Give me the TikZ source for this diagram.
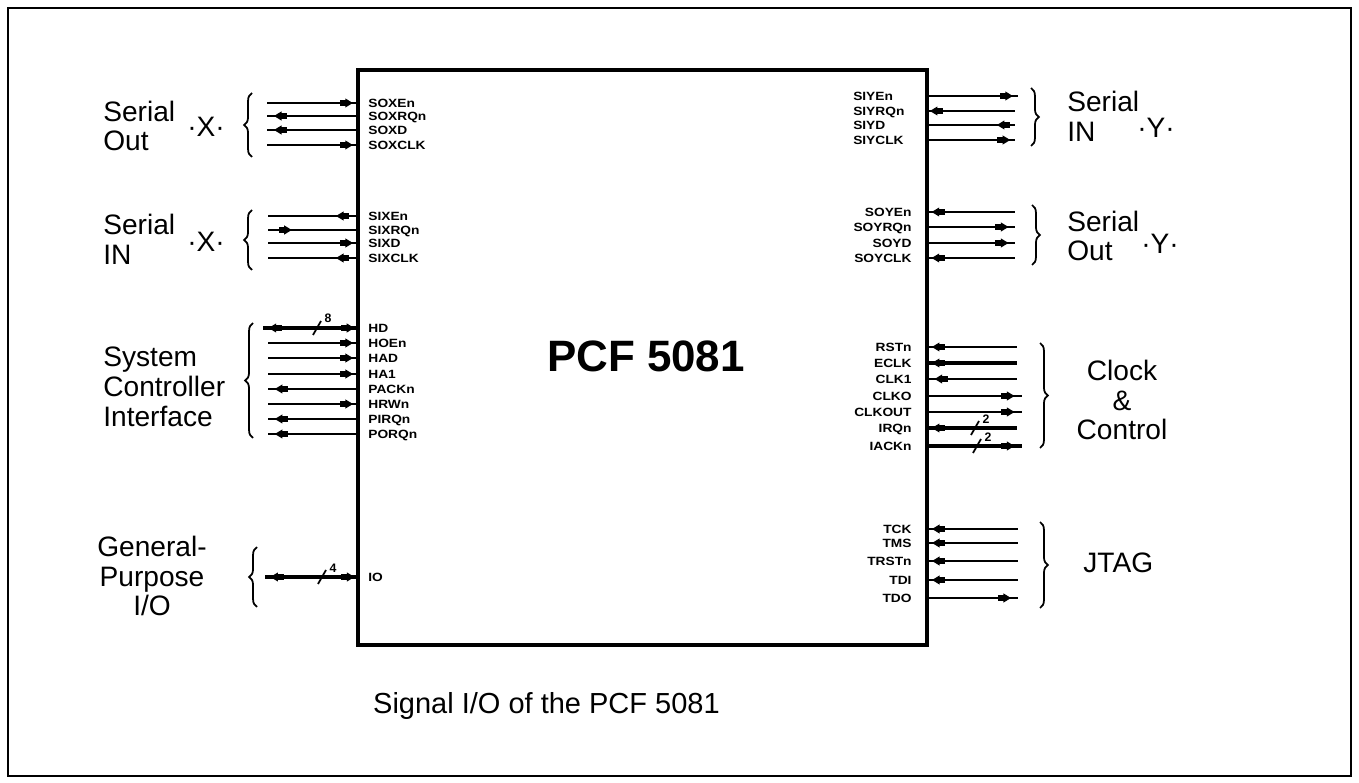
\documentclass[tikz,border=0pt]{standalone}
\usepackage{fontspec}
\setmainfont{Liberation Sans}
\usepackage{graphicx}
\usetikzlibrary{decorations.markings,decorations.pathreplacing}

\tikzset{
  sig/.style={line width=1.1pt},
  bus/.style={line width=2pt},
  fwd/.style={postaction={decorate,decoration={markings,mark=at position #1 with {\fill (3.3pt,0) -- (-1pt,2.6pt) -- (-1pt,-2.6pt) -- cycle; \fill (-4.2pt,-1.9pt) rectangle (-0.8pt,1.9pt);}}}},
  bwd/.style={postaction={decorate,decoration={markings,mark=at position #1 with {\fill (-3.3pt,0) -- (1pt,2.6pt) -- (1pt,-2.6pt) -- cycle; \fill (4.2pt,-1.9pt) rectangle (0.8pt,1.9pt);}}}},
  pin/.style={inner sep=0pt, font=\fontsize{6.8}{7}\selectfont\bfseries},
  side/.style={inner sep=0pt, font=\fontsize{16}{17}\selectfont, align=left},
  brc/.style={decorate, decoration={brace, amplitude=4.5pt}, line width=1pt},
  slash/.style={line width=1pt},
  buslbl/.style={inner sep=0pt, font=\fontsize{7}{8}\selectfont\bfseries},
}

% left signal: name, y, far x, style, label
\newcommand{\Lsig}[5]{%
  \coordinate (#1) at (#3,#2);
  \draw[#4] (chip.west |- #1) -- (#1);
  \node[pin, anchor=mid west, xshift=0.2cm] (#1-t) at (chip.west |- #1) {\scalebox{1.15}[1]{#5}};
}
% right signal: name, y, far x, style, label, label options
\newcommand{\Rsig}[6]{%
  \coordinate (#1) at (#3,#2);
  \draw[#4] (chip.east |- #1) -- (#1);
  \node[pin, #6] (#1-t) at (chip.east |- #1) {\scalebox{1.15}[1]{#5}};
}

\begin{document}
\begin{tikzpicture}[x=0.02cm,y=-0.02cm]
\useasboundingbox (0,0) rectangle (1359,783);
\draw[line width=1.2pt] (8,8) rectangle (1351,776);

\node[draw, line width=2.6pt, outer sep=0pt, inner sep=0pt,
      minimum width=11.38cm, minimum height=11.5cm, anchor=north west] (chip) at (358,70) {};
\node[font=\fontsize{25}{28}\selectfont\bfseries] (title) at (646,356) {PCF 5081};
\node[font=\fontsize{16.5}{18}\selectfont, anchor=west] (cap) at (367,706) {Signal I/O of the PCF 5081};

% ---------- left: Serial Out X
\Lsig{soxen}{103}{267}{sig,bwd=0.12}{SOXEn}
\Lsig{soxrqn}{116}{267}{sig,fwd=0.86}{SOXRQn}
\Lsig{soxd}{130}{267}{sig,fwd=0.86}{SOXD}
\Lsig{soxclk}{145}{267}{sig,bwd=0.12}{SOXCLK}
\draw[brc] (252,157) -- (252,93);
\node[side, anchor=west] (sox-t) at (103,126) {Serial\\Out};
\node[side] (sox-x) at (206,127) {·X·};

% ---------- left: Serial IN X
\Lsig{sixen}{216}{268}{sig,fwd=0.18}{SIXEn}
\Lsig{sixrqn}{230}{268}{sig,bwd=0.8}{SIXRQn}
\Lsig{sixd}{243}{268}{sig,bwd=0.12}{SIXD}
\Lsig{sixclk}{258}{268}{sig,fwd=0.18}{SIXCLK}
\draw[brc] (252,270) -- (252,210);
\node[side, anchor=west] (six-t) at (103,239) {Serial\\IN};
\node[side] (six-x) at (206,242) {·X·};

% ---------- left: System Controller Interface
\Lsig{hd}{328}{263}{bus,bwd=0.1,fwd=0.88}{HD}
\Lsig{hoen}{343}{268}{sig,bwd=0.12}{HOEn}
\Lsig{had}{358}{268}{sig,bwd=0.12}{HAD}
\Lsig{ha1}{374}{268}{sig,bwd=0.12}{HA1}
\Lsig{packn}{389}{268}{sig,fwd=0.86}{PACKn}
\Lsig{hrwn}{404}{268}{sig,bwd=0.12}{HRWn}
\Lsig{pirqn}{419}{268}{sig,fwd=0.86}{PIRQn}
\Lsig{porqn}{434}{268}{sig,fwd=0.86}{PORQn}
\draw[slash] (313,335) -- (321,321);
\node[buslbl] (hd-w) at (328,318) {8};
\draw[brc] (253,438) -- (253,323);
\node[side, anchor=west] (sci-t) at (103,387) {System\\Controller\\Interface};

% ---------- left: General-Purpose I/O
\Lsig{gpio}{577}{265}{bus,bwd=0.1,fwd=0.88}{IO}
\draw[slash] (318,584) -- (326,570);
\node[buslbl] (gpio-w) at (333,568) {4};
\draw[brc] (257,607) -- (257,547);
\node[side, align=center] (gp-t) at (152,576) {General-\\Purpose\\I/O};

% ---------- right: Serial IN Y
\Rsig{siyen}{96}{1018}{sig,fwd=0.88}{SIYEn}{anchor=mid west,xshift=-1.48cm}
\Rsig{siyrqn}{111}{1015}{sig,bwd=0.1}{SIYRQn}{anchor=mid west,xshift=-1.48cm}
\Rsig{siyd}{125}{1015}{sig,bwd=0.86}{SIYD}{anchor=mid west,xshift=-1.48cm}
\Rsig{siyclk}{140}{1015}{sig,fwd=0.88}{SIYCLK}{anchor=mid west,xshift=-1.48cm}
\draw[brc] (1031,88) -- (1031,146);
\node[side, anchor=west] (siy-t) at (1067,116) {Serial\\IN};
\node[side] (siy-y) at (1156,128) {·Y·};

% ---------- right: Serial Out Y
\Rsig{soyen}{212}{1015}{sig,bwd=0.12}{SOYEn}{anchor=mid east,xshift=-0.3cm}
\Rsig{soyrqn}{227}{1015}{sig,fwd=0.86}{SOYRQn}{anchor=mid east,xshift=-0.3cm}
\Rsig{soyd}{243}{1015}{sig,fwd=0.86}{SOYD}{anchor=mid east,xshift=-0.3cm}
\Rsig{soyclk}{258}{1015}{sig,bwd=0.12}{SOYCLK}{anchor=mid east,xshift=-0.3cm}
\draw[brc] (1032,205) -- (1032,265);
\node[side, anchor=west] (soy-t) at (1067,236) {Serial\\Out};
\node[side] (soy-y) at (1160,244) {·Y·};

% ---------- right: Clock & Control
\Rsig{rstn}{347}{1017}{sig,bwd=0.12}{RSTn}{anchor=mid east,xshift=-0.3cm}
\Rsig{eclk}{363}{1017}{bus,bwd=0.12}{ECLK}{anchor=mid east,xshift=-0.3cm}
\Rsig{clki}{379}{1017}{sig,bwd=0.15}{CLK1}{anchor=mid east,xshift=-0.3cm}
\Rsig{clko}{396}{1022}{sig,fwd=0.86}{CLKO}{anchor=mid east,xshift=-0.3cm}
\Rsig{clkout}{412}{1022}{sig,fwd=0.86}{CLKOUT}{anchor=mid east,xshift=-0.3cm}
\Rsig{irqn}{428}{1017}{bus,bwd=0.12}{IRQn}{anchor=mid east,xshift=-0.3cm}
\Rsig{iackn}{446}{1022}{bus,fwd=0.86}{IACKn}{anchor=mid east,xshift=-0.3cm}
\draw[slash] (971,435) -- (979,421);
\node[buslbl] (irqn-w) at (986,419) {2};
\draw[slash] (973,453) -- (981,439);
\node[buslbl] (iackn-w) at (988,437) {2};
\draw[brc] (1040,343) -- (1040,448);
\node[side, align=center] (clk-t) at (1122,400) {Clock\\\&\\Control};

% ---------- right: JTAG
\Rsig{tck}{529}{1018}{sig,bwd=0.12}{TCK}{anchor=mid east,xshift=-0.3cm}
\Rsig{tms}{543}{1018}{sig,bwd=0.12}{TMS}{anchor=mid east,xshift=-0.3cm}
\Rsig{trstn}{561}{1018}{sig,bwd=0.12}{TRSTn}{anchor=mid east,xshift=-0.3cm}
\Rsig{tdi}{580}{1018}{sig,bwd=0.12}{TDI}{anchor=mid east,xshift=-0.3cm}
\Rsig{tdo}{598}{1018}{sig,fwd=0.86}{TDO}{anchor=mid east,xshift=-0.3cm}
\draw[brc] (1040,522) -- (1040,608);
\node[side, anchor=west] (jtag-t) at (1083,563) {JTAG};
\end{tikzpicture}
\end{document}
